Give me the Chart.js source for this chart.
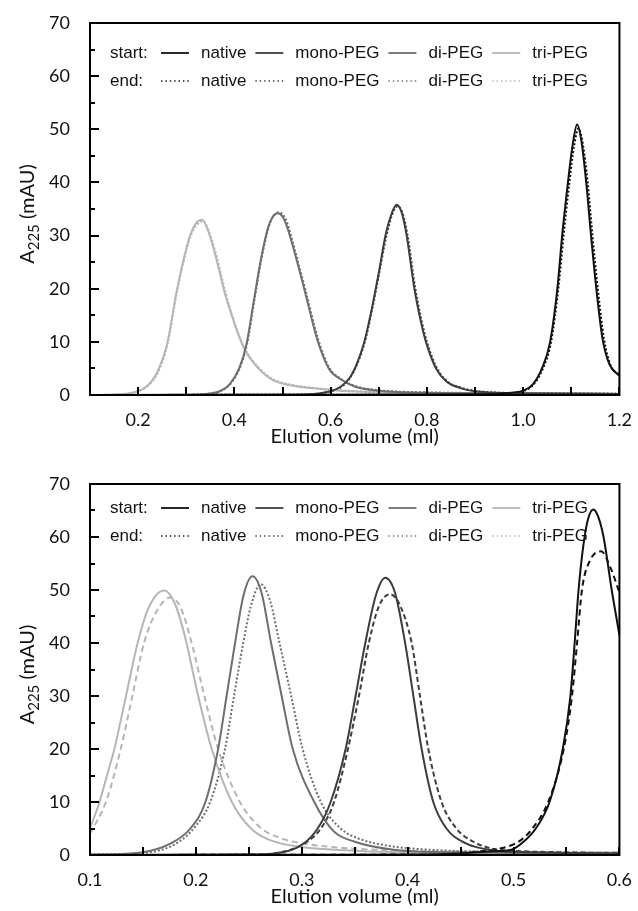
<!DOCTYPE html>
<html>
<head>
<meta charset="utf-8">
<script src="https://cdn.jsdelivr.net/npm/chart.js@4.4.1/dist/chart.umd.min.js"></script>
<style>
  html, body { margin: 0; padding: 0; background: #fff; }
  canvas { display: block; }
</style>
</head>
<body>
<canvas id="topChart" width="638" height="455"></canvas>
<canvas id="bottomChart" width="638" height="456"></canvas>
<script>
// legend text + ticks
const seriesNames = ["native", "mono-PEG", "di-PEG", "tri-PEG"];
const legendRows = ["start:", "end:"];
const topXTicks = [0.2, 0.4, 0.6, 0.8, 1.0, 1.2];
const bottomXTicks = [0.1, 0.2, 0.3, 0.4, 0.5, 0.6];
const yTicks = [0, 10, 20, 30, 40, 50, 60, 70];
const xTitle = "Elution volume (ml)";

// top panel, start of run
const topNativeStartVol = [0.13, 0.5, 0.8, 0.9, 0.95, 0.98, 1.0, 1.02, 1.039, 1.056, 1.071, 1.081, 1.093, 1.103, 1.112, 1.121, 1.131, 1.141, 1.152, 1.165, 1.179, 1.2];
const topNativeStartAbs = [0.0, 0.05, 0.1, 0.15, 0.25, 0.45, 0.8, 2.0, 5.0, 10.0, 20.0, 30.0, 40.0, 47.2, 50.9, 47.8, 40.0, 30.0, 20.0, 10.5, 5.8, 3.6];
const topMonoStartVol = [0.13, 0.5, 0.55, 0.59, 0.62, 0.64, 0.655, 0.67, 0.685, 0.7, 0.715, 0.727, 0.737, 0.747, 0.757, 0.774, 0.787, 0.798, 0.819, 0.84, 0.87, 0.9, 0.95, 1.0, 1.2];
const topMonoStartAbs = [0.0, 0.05, 0.1, 0.5, 1.5, 3.3, 6.0, 10.0, 16.0, 23.0, 30.5, 34.2, 35.8, 34.5, 30.5, 20.0, 14.0, 10.0, 5.0, 2.6, 1.3, 0.7, 0.4, 0.3, 0.2];
const topDiStartVol = [0.13, 0.3, 0.35, 0.37, 0.39, 0.41, 0.425, 0.44, 0.455, 0.47, 0.48, 0.49, 0.5, 0.51, 0.52, 0.545, 0.572, 0.596, 0.62, 0.65, 0.7, 0.8, 1.0, 1.2];
const topDiStartAbs = [0.0, 0.05, 0.3, 0.7, 2.0, 5.0, 9.5, 17.5, 25.5, 31.5, 33.6, 34.2, 33.6, 31.5, 28.5, 20.0, 10.5, 5.0, 3.0, 1.6, 0.8, 0.4, 0.3, 0.2];
const topTriStartVol = [0.13, 0.15, 0.18, 0.2, 0.22, 0.24, 0.26, 0.28, 0.3, 0.31, 0.32, 0.333, 0.345, 0.36, 0.38, 0.4, 0.42, 0.45, 0.48, 0.52, 0.56, 0.62, 0.7, 0.8, 0.95, 1.2];
const topTriStartAbs = [0.05, 0.1, 0.3, 0.7, 1.8, 4.3, 9.5, 19.5, 27.5, 30.5, 32.3, 33.0, 31.0, 26.5, 19.2, 13.5, 8.8, 5.0, 2.8, 1.8, 1.3, 0.8, 0.5, 0.35, 0.25, 0.15];

// top panel, end of run
const topNativeEndVol = [0.13, 0.5, 0.8, 0.9, 0.95, 0.98, 1.0, 1.02, 1.041, 1.058, 1.073, 1.084, 1.096, 1.106, 1.115, 1.124, 1.134, 1.144, 1.155, 1.168, 1.182, 1.2];
const topNativeEndAbs = [0.0, 0.05, 0.1, 0.15, 0.25, 0.4, 0.75, 1.8, 5.0, 10.0, 20.0, 30.0, 40.0, 47.0, 50.2, 47.2, 40.0, 30.0, 20.0, 10.5, 5.5, 3.8];
const topMonoEndVol = [0.13, 0.5, 0.55, 0.59, 0.62, 0.64, 0.656, 0.671, 0.686, 0.701, 0.716, 0.728, 0.739, 0.749, 0.759, 0.776, 0.789, 0.8, 0.821, 0.842, 0.87, 0.9, 0.95, 1.0, 1.2];
const topMonoEndAbs = [0.0, 0.05, 0.1, 0.5, 1.4, 3.2, 6.0, 10.0, 16.0, 23.0, 30.0, 34.0, 35.5, 34.3, 30.5, 20.0, 14.0, 10.0, 5.0, 2.6, 1.4, 0.8, 0.45, 0.3, 0.25];
const topDiEndVol = [0.13, 0.3, 0.35, 0.37, 0.39, 0.41, 0.426, 0.441, 0.456, 0.471, 0.481, 0.492, 0.502, 0.512, 0.522, 0.547, 0.574, 0.598, 0.62, 0.65, 0.7, 0.8, 1.0, 1.2];
const topDiEndAbs = [0.0, 0.05, 0.3, 0.7, 1.9, 4.8, 9.5, 17.5, 25.5, 31.5, 33.6, 34.4, 33.8, 31.8, 28.5, 20.0, 10.5, 5.0, 3.1, 1.7, 0.9, 0.5, 0.35, 0.25];
const topTriEndVol = [0.13, 0.15, 0.18, 0.2, 0.22, 0.24, 0.261, 0.281, 0.301, 0.311, 0.322, 0.335, 0.347, 0.362, 0.382, 0.4, 0.42, 0.45, 0.48, 0.52, 0.56, 0.62, 0.7, 0.8, 0.95, 1.2];
const topTriEndAbs = [0.05, 0.1, 0.3, 0.7, 1.7, 4.0, 9.5, 19.5, 27.5, 30.3, 32.0, 32.7, 30.8, 26.5, 19.2, 13.7, 9.0, 5.2, 3.0, 1.9, 1.4, 0.9, 0.6, 0.4, 0.3, 0.2];

// bottom panel, start of run
const botNativeStartVol = [0.1, 0.3, 0.4, 0.45, 0.48, 0.498, 0.51, 0.521, 0.534, 0.5465, 0.5537, 0.5577, 0.5614, 0.566, 0.5705, 0.5755, 0.58, 0.585, 0.5927, 0.6];
const botNativeStartAbs = [0.0, 0.05, 0.1, 0.3, 0.7, 1.0, 2.6, 5.0, 10.0, 20.0, 30.0, 40.0, 50.0, 58.5, 63.5, 65.2, 63.8, 60.0, 50.0, 41.5];
const botMonoStartVol = [0.1, 0.25, 0.274, 0.3, 0.315, 0.3273, 0.3414, 0.3508, 0.36, 0.37, 0.3789, 0.388, 0.3976, 0.4054, 0.4132, 0.4242, 0.4366, 0.455, 0.48, 0.5, 0.55, 0.6];
const botMonoStartAbs = [0.0, 0.1, 0.3, 1.9, 5.0, 10.0, 20.0, 30.0, 40.0, 49.0, 52.3, 49.5, 40.0, 30.0, 20.0, 10.0, 5.0, 2.2, 0.9, 0.6, 0.4, 0.3];
const botDiStartVol = [0.1, 0.13, 0.15, 0.1744, 0.1948, 0.209, 0.221, 0.229, 0.237, 0.245, 0.2534, 0.262, 0.271, 0.281, 0.2915, 0.3118, 0.33, 0.35, 0.387, 0.45, 0.6];
const botDiStartAbs = [0.1, 0.2, 0.5, 2.0, 5.0, 10.0, 20.0, 30.0, 40.0, 49.0, 52.6, 49.5, 40.0, 30.0, 20.0, 10.0, 4.5, 2.5, 1.0, 0.5, 0.3];
const botTriStartVol = [0.1, 0.109, 0.116, 0.123, 0.134, 0.145, 0.155, 0.17, 0.18, 0.19, 0.201, 0.215, 0.234, 0.252, 0.27, 0.3, 0.35, 0.4, 0.5, 0.6];
const botTriStartAbs = [5.0, 10.0, 15.0, 20.0, 30.0, 40.0, 46.5, 49.9, 47.5, 41.0, 31.0, 20.0, 10.0, 5.0, 2.8, 1.5, 0.8, 0.5, 0.3, 0.2];

// bottom panel, end of run
const botNativeEndVol = [0.1, 0.3, 0.4, 0.45, 0.48, 0.5, 0.51, 0.5178, 0.5327, 0.5474, 0.5552, 0.56, 0.5646, 0.572, 0.5827, 0.592, 0.6];
const botNativeEndAbs = [0.0, 0.05, 0.1, 0.4, 1.0, 2.0, 3.3, 5.0, 10.0, 20.0, 30.0, 40.0, 50.0, 55.5, 57.3, 54.0, 49.5];
const botMonoEndVol = [0.1, 0.25, 0.28, 0.305, 0.318, 0.3305, 0.3436, 0.354, 0.3633, 0.373, 0.3835, 0.393, 0.4038, 0.4116, 0.4195, 0.432, 0.446, 0.462, 0.48, 0.5, 0.55, 0.6];
const botMonoEndAbs = [0.0, 0.1, 0.5, 2.5, 5.0, 10.0, 20.0, 30.0, 40.0, 47.0, 49.2, 47.0, 40.0, 30.0, 20.0, 10.0, 5.0, 2.5, 1.2, 0.8, 0.5, 0.4];
const botDiEndVol = [0.1, 0.15, 0.18, 0.2, 0.2135, 0.2275, 0.236, 0.2447, 0.252, 0.2612, 0.27, 0.279, 0.29, 0.3008, 0.318, 0.3367, 0.355, 0.38, 0.42, 0.5, 0.6];
const botDiEndAbs = [0.1, 0.4, 2.0, 5.5, 10.0, 20.0, 30.0, 40.0, 47.0, 51.1, 48.0, 40.0, 30.0, 20.0, 10.0, 5.0, 3.0, 1.8, 1.0, 0.6, 0.4];
const botTriEndVol = [0.1, 0.115, 0.129, 0.14, 0.151, 0.163, 0.176, 0.186, 0.196, 0.208, 0.221, 0.2416, 0.262, 0.28, 0.3, 0.35, 0.4, 0.5, 0.6];
const botTriEndAbs = [4.0, 10.0, 20.0, 30.0, 40.0, 46.0, 48.6, 46.5, 40.0, 30.0, 20.0, 10.0, 5.0, 3.2, 2.2, 1.2, 0.8, 0.5, 0.4];

const seriesColors = ["#111111", "#3d3d3d", "#6e6e6e", "#b5b5b5"];
const tickFont = "'Lato', 'Open Sans', sans-serif";
const legendFont = "17px 'Liberation Sans', Arial, sans-serif";

const toPoints = (vols, abs) => vols.map((v, i) => ({ x: v, y: abs[i] }));

const lineSet = (vols, abs, colorIndex, dash, width) => ({
  data: toPoints(vols, abs),
  borderColor: seriesColors[colorIndex],
  borderWidth: width,
  borderDash: dash,
  pointRadius: 0,
  fill: false,
  cubicInterpolationMode: "monotone",
});

const roughlyEqual = (a, b) => Math.abs(a - b) < 1e-6;

// frame, inward ticks, the two-row legend and both axis titles
const panelDecor = {
  id: "panelDecor",
  afterDraw(chart, args, opts) {
    const { ctx, chartArea: area, scales } = chart;
    const xs = scales.x;
    const ys = scales.y;
    ctx.save();

    ctx.strokeStyle = "#000";
    ctx.lineWidth = 2;
    ctx.setLineDash([]);
    ctx.strokeRect(area.left, area.top, area.right - area.left, area.bottom - area.top);

    ctx.beginPath();
    for (let v = ys.min; v <= ys.max + 1e-6; v += 5) {
      const py = Math.round(ys.getPixelForValue(v));
      const len = roughlyEqual(v % 10, 0) ? 9 : 5;
      ctx.moveTo(area.left, py);
      ctx.lineTo(area.left + len, py);
    }
    const steps = Math.round((xs.max - xs.min) / opts.xStep);
    for (let i = 0; i <= steps; i++) {
      const v = xs.min + i * opts.xStep;
      const px = Math.round(xs.getPixelForValue(v));
      ctx.moveTo(px, area.bottom);
      ctx.lineTo(px, area.bottom - 8);
    }
    ctx.stroke();

    // legend
    ctx.font = legendFont;
    ctx.textBaseline = "middle";
    ctx.textAlign = "left";
    ctx.fillStyle = "#111";
    legendRows.forEach((label, r) => {
      const rowY = area.top + opts.legendTop + r * opts.legendGap;
      ctx.setLineDash([]);
      ctx.fillText(label, area.left + 20, rowY);
      let cx = area.left + 71;
      seriesNames.forEach((name, i) => {
        ctx.strokeStyle = seriesColors[i];
        ctx.lineWidth = r ? 1.4 : 1.8;
        ctx.setLineDash(r ? [1.4, 3] : []);
        ctx.beginPath();
        ctx.moveTo(cx, rowY);
        ctx.lineTo(cx + 28, rowY);
        ctx.stroke();
        cx += 28 + 12;
        ctx.fillText(name, cx, rowY);
        cx += ctx.measureText(name).width + 9;
      });
    });
    ctx.setLineDash([]);

    // x title
    ctx.fillStyle = "#111";
    ctx.textAlign = "center";
    ctx.textBaseline = "middle";
    ctx.font = `20px ${tickFont}`;
    ctx.fillText(xTitle, (area.left + area.right) / 2, area.bottom + 42);

    // y title: A with subscript 225
    const bigFont = `20px ${tickFont}`;
    const subFont = `15px ${tickFont}`;
    ctx.font = bigFont;
    const wA = ctx.measureText("A").width;
    const wRest = ctx.measureText(" (mAU)").width;
    ctx.font = subFont;
    const wSub = ctx.measureText("225").width;
    const total = wA + wSub + wRest;
    ctx.translate(27, (area.top + area.bottom) / 2 + 5);
    ctx.rotate(-Math.PI / 2);
    ctx.textAlign = "left";
    ctx.textBaseline = "alphabetic";
    let tx = -total / 2;
    ctx.font = bigFont;
    ctx.fillText("A", tx, 7);
    tx += wA;
    ctx.font = subFont;
    ctx.fillText("225", tx, 12);
    tx += wSub;
    ctx.font = bigFont;
    ctx.fillText(" (mAU)", tx, 7);

    ctx.restore();
  },
};

const makePanel = (canvasId, cfg) => {
  return new Chart(document.getElementById(canvasId), {
    type: "line",
    data: { datasets: cfg.datasets },
    options: {
      responsive: false,
      devicePixelRatio: 1,
      animation: false,
      events: [],
      layout: { padding: { top: cfg.padTop, right: 13, left: 0, bottom: 0 } },
      plugins: {
        legend: { display: false },
        tooltip: { enabled: false },
        panelDecor: { xStep: cfg.xStep, legendTop: cfg.legendTop, legendGap: 28 },
      },
      scales: {
        x: {
          type: "linear",
          min: cfg.xMin,
          max: cfg.xMax,
          grid: { display: false },
          border: { display: false },
          afterBuildTicks: (scale) => {
            scale.ticks = cfg.xTicks.map((value) => ({ value }));
          },
          afterFit: (scale) => {
            scale.height = cfg.xAxisHeight;
          },
          ticks: {
            autoSkip: false,
            maxRotation: 0,
            minRotation: 0,
            padding: 6,
            color: "#111",
            font: { family: tickFont, size: 18 },
            callback: (value) => Number(value).toFixed(1),
          },
        },
        y: {
          type: "linear",
          min: 0,
          max: 70,
          grid: { display: false },
          border: { display: false },
          afterBuildTicks: (scale) => {
            scale.ticks = yTicks.map((value) => ({ value }));
          },
          afterFit: (scale) => {
            scale.width = 90;
          },
          ticks: {
            padding: 12,
            color: "#111",
            font: { family: tickFont, size: 18 },
          },
        },
      },
    },
    plugins: [panelDecor],
  });
};

makePanel("topChart", {
  xMin: 0.1,
  xMax: 1.2,
  xStep: 0.1,
  xTicks: topXTicks,
  padTop: 23,
  xAxisHeight: 60,
  legendTop: 30,
  datasets: [
    lineSet(topNativeStartVol, topNativeStartAbs, 0, [], 2),
    lineSet(topMonoStartVol, topMonoStartAbs, 1, [], 2),
    lineSet(topDiStartVol, topDiStartAbs, 2, [], 2),
    lineSet(topTriStartVol, topTriStartAbs, 3, [], 2),
    lineSet(topNativeEndVol, topNativeEndAbs, 0, [2, 2], 2),
    lineSet(topMonoEndVol, topMonoEndAbs, 1, [2, 2], 2),
    lineSet(topDiEndVol, topDiEndAbs, 2, [2, 2], 2),
    lineSet(topTriEndVol, topTriEndAbs, 3, [2, 2], 2),
  ],
});

makePanel("bottomChart", {
  xMin: 0.1,
  xMax: 0.6,
  xStep: 0.05,
  xTicks: bottomXTicks,
  padTop: 29,
  xAxisHeight: 56,
  legendTop: 24,
  datasets: [
    lineSet(botNativeStartVol, botNativeStartAbs, 0, [], 2),
    lineSet(botMonoStartVol, botMonoStartAbs, 1, [], 2),
    lineSet(botDiStartVol, botDiStartAbs, 2, [], 2),
    lineSet(botTriStartVol, botTriStartAbs, 3, [], 2),
    lineSet(botNativeEndVol, botNativeEndAbs, 0, [6, 4], 2),
    lineSet(botMonoEndVol, botMonoEndAbs, 1, [5, 3], 2),
    lineSet(botDiEndVol, botDiEndAbs, 2, [2, 2], 2),
    lineSet(botTriEndVol, botTriEndAbs, 3, [6, 4], 2),
  ],
});
</script>
</body>
</html>
